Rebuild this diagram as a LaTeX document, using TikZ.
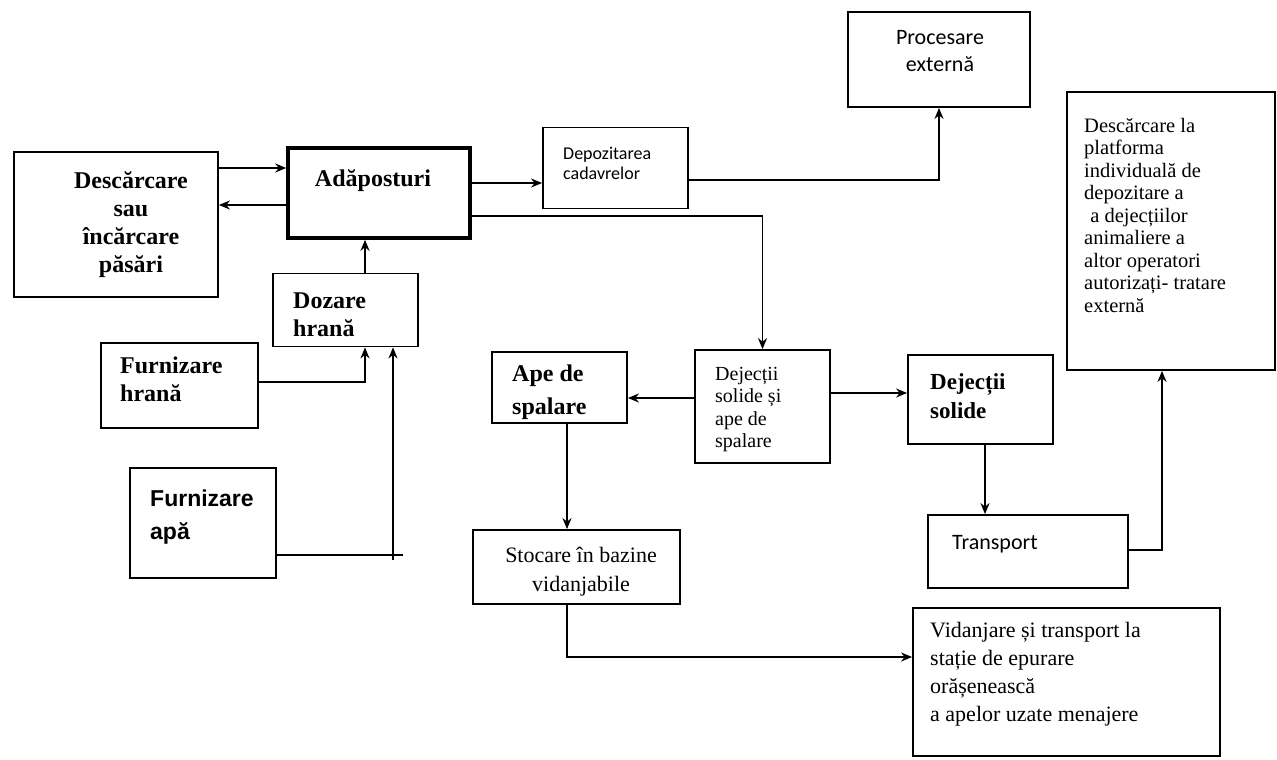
\documentclass[tikz,border=0pt]{standalone}
\usepackage{fontspec}
\setmainfont{Liberation Serif}
\newfontfamily\calfont{Carlito}
\newfontfamily\arialfont{Liberation Sans}
\usetikzlibrary{arrows.meta}
\tikzset{
  box/.style={draw, line width=1.8pt, inner sep=0pt},
  thickbox/.style={draw, line width=3.6pt, inner sep=0pt},
  lbl/.style={inner sep=0pt, anchor=north west, align=left},
  clbl/.style={inner sep=0pt, anchor=north, align=center},
  arr/.style={line width=1.7pt, -{Stealth[length=11pt,width=9pt]}},
  ln/.style={line width=1.7pt},
  bigb/.style={font=\bfseries\fontsize{24}{28}\selectfont},
}
\begin{document}
\begin{tikzpicture}[x=1pt,y=-1pt]
\useasboundingbox[fill=white] (0,0) rectangle (1277,760);

% boxes
\node[box, minimum width=204pt, minimum height=145pt] (desc) at (116,224.5) {};
\node[thickbox, minimum width=182pt, minimum height=90pt] (adap) at (379,193) {};
\node[box, minimum width=145pt, minimum height=81pt] (depoz) at (615.5,168) {};
\node[box, minimum width=182pt, minimum height=95pt] (proc) at (939,59.5) {};
\node[box, minimum width=208pt, minimum height=278pt] (plat) at (1171,231) {};
\node[box, minimum width=145pt, minimum height=73pt] (doz) at (345.5,310) {};
\node[box, minimum width=157pt, minimum height=85pt] (furh) at (179.5,385.5) {};
\node[box, minimum width=146pt, minimum height=110pt] (fura) at (203,523) {};
\node[box, minimum width=135pt, minimum height=71pt] (ape) at (559.5,387.5) {};
\node[box, minimum width=135pt, minimum height=113pt] (dsa) at (762.5,406.5) {};
\node[box, minimum width=145pt, minimum height=89pt] (ds) at (980.5,399.5) {};
\node[box, minimum width=200pt, minimum height=73pt] (trans) at (1028,551.5) {};
\node[box, minimum width=207pt, minimum height=74pt] (stoc) at (576.5,567) {};
\node[box, minimum width=307pt, minimum height=148pt] (vid) at (1066.5,682) {};

% texts
\node[clbl, bigb] (tdesc) at (131,171) {Descărcare\\sau\\încărcare\\păsări};
\node[clbl, bigb] (tadap) at (373,169) {Adăposturi};
\node[lbl, font=\calfont\fontsize{18}{20}\selectfont] (tdepoz) at (563,147) {Depozitarea\\cadavrelor};
\node[clbl, font=\calfont\fontsize{22}{27}\selectfont] (tproc) at (940,30) {Procesare\\externă};
\node[lbl, font=\fontsize{20.5}{22.5}\selectfont] (tplat) at (1084,118) {Descărcare la\\platforma\\individuală de\\depozitare a\\\hspace{0.3em}a dejecțiilor\\animaliere a\\altor operatori\\autorizați- tratare\\externă};
\node[lbl, bigb] (tdoz) at (293,293) {Dozare\\hrană};
\node[lbl, bigb] (tfurh) at (120,357) {Furnizare\\hrană};
\node[lbl, font=\arialfont\bfseries\fontsize{23}{33}\selectfont] (tfura) at (150,490) {Furnizare\\apă};
\node[lbl, font=\bfseries\fontsize{24}{33}\selectfont] (tape) at (512,365) {Ape de\\spalare};
\node[lbl, font=\fontsize{20}{22.3}\selectfont] (tdsa) at (715,367) {Dejecții\\solide și\\ape de\\spalare};
\node[lbl, font=\bfseries\fontsize{23}{29}\selectfont] (tds) at (930,373) {Dejecții\\solide};
\node[lbl, font=\calfont\fontsize{22}{27}\selectfont] (ttrans) at (952,535) {Transport};
\node[clbl, font=\fontsize{22}{29}\selectfont] (tstoc) at (581,547) {Stocare în bazine\\vidanjabile};
\node[lbl, font=\fontsize{22}{28}\selectfont] (tvid) at (930,622) {Vidanjare și transport la\\stație de epurare\\orășenească\\a apelor uzate menajere};

% connectors
\draw[arr] (desc.east |- 0,168) -- (adap.west |- 0,168);
\draw[arr] (adap.west |- 0,205) -- (desc.east |- 0,205);
\draw[arr] (adap.east |- 0,183) -- (depoz.west |- 0,183);
\draw[arr] (adap.east |- 0,216) -| (dsa.north);
\draw[arr] (depoz.east |- 0,180) -| (proc.south);
\draw[arr] (doz.north -| 365,0) -- (adap.south -| 365,0);
\draw[arr] (furh.east |- 0,382) -| (365,0 |- doz.south);
\draw[arr] (fura.east |- 0,555) -| (393,0 |- doz.south);
\coordinate (stub) at (393,555);
\draw[ln] (stub) -- ++(10,0);
\draw[ln] (stub) -- ++(0,5);
\draw[arr] (dsa.west |- 0,398) -- (ape.east |- 0,398);
\draw[arr] (dsa.east |- 0,393) -- (ds.west |- 0,393);
\draw[arr] (ape.south -| 567,0) -- (stoc.north -| 567,0);
\draw[arr] (ds.south -| 985,0) -- (trans.north -| 985,0);
\draw[arr] (trans.east |- 0,550) -| (1162,0 |- plat.south);
\draw[arr] (stoc.south -| 567,0) |- (vid.west |- 0,657);
\end{tikzpicture}
\end{document}
